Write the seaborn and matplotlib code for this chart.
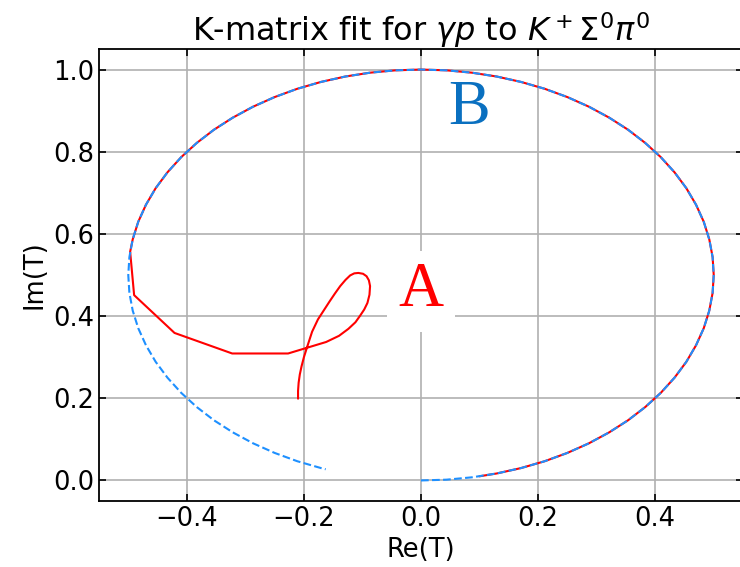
import matplotlib
matplotlib.use("Agg")
import matplotlib.pyplot as plt
import seaborn as sns
import pandas as pd

# Unitarity circle (elastic amplitude), Re(T) / Im(T)
circle_re = [0.0, 0.0436, 0.0868, 0.1294, 0.1710, 0.2113, 0.25, 0.2868, 0.3214,
             0.3536, 0.3830, 0.4096, 0.4330, 0.4532, 0.4698, 0.4830, 0.4924, 0.4981,
             0.5, 0.4981, 0.4924, 0.4830, 0.4698, 0.4532, 0.4330, 0.4096, 0.3830,
             0.3536, 0.3214, 0.2868, 0.25, 0.2113, 0.1710, 0.1294, 0.0868, 0.0436,
             0.0, -0.0436, -0.0868, -0.1294, -0.1710, -0.2113, -0.25, -0.2868, -0.3214,
             -0.3536, -0.3830, -0.4096, -0.4330, -0.4532, -0.4698, -0.4830, -0.4924, -0.4981,
             -0.5, -0.4981, -0.4924, -0.4830, -0.4698, -0.4532, -0.4330, -0.4096, -0.3830,
             -0.3536, -0.3214, -0.2868, -0.25, -0.2113, -0.1710, -0.1628]
circle_im = [0.0, 0.0019, 0.0076, 0.0170, 0.0302, 0.0468, 0.0670, 0.0904, 0.1170,
             0.1464, 0.1786, 0.2132, 0.25, 0.2887, 0.3290, 0.3706, 0.4132, 0.4564,
             0.5, 0.5436, 0.5868, 0.6294, 0.6710, 0.7113, 0.75, 0.7868, 0.8214,
             0.8536, 0.8830, 0.9096, 0.9330, 0.9532, 0.9698, 0.9830, 0.9924, 0.9981,
             1.0, 0.9981, 0.9924, 0.9830, 0.9698, 0.9532, 0.9330, 0.9096, 0.8830,
             0.8536, 0.8214, 0.7868, 0.75, 0.7113, 0.6710, 0.6294, 0.5868, 0.5436,
             0.5, 0.4564, 0.4132, 0.3706, 0.3290, 0.2887, 0.25, 0.2132, 0.1786,
             0.1464, 0.1170, 0.0904, 0.0670, 0.0468, 0.0302, 0.0272]

# K-matrix fit amplitude for gamma p -> K+ Sigma0 pi0
fit_re = [0.0998, 0.1294, 0.1710, 0.2113, 0.25, 0.2868, 0.3214,
          0.3536, 0.3830, 0.4096, 0.4330, 0.4532, 0.4698, 0.4830, 0.4924, 0.4981,
          0.5, 0.4981, 0.4924, 0.4830, 0.4698, 0.4532, 0.4330, 0.4096, 0.3830,
          0.3536, 0.3214, 0.2868, 0.25, 0.2113, 0.1710, 0.1294, 0.0868, 0.0436,
          0.0, -0.0436, -0.0868, -0.1294, -0.1710, -0.2113, -0.25, -0.2868, -0.3214,
          -0.3536, -0.3830, -0.4096, -0.4330, -0.4532, -0.4698, -0.4830, -0.4924,
          -0.4968,
          -0.490, -0.421, -0.3225, -0.227, -0.162, -0.140, -0.124, -0.112, -0.104,
          -0.097, -0.0915, -0.088, -0.087, -0.089, -0.093, -0.099, -0.107, -0.114,
          -0.121, -0.129, -0.138, -0.147, -0.156, -0.166, -0.176, -0.186, -0.194,
          -0.200, -0.204, -0.207, -0.209, -0.210, -0.210]
fit_im = [0.0101, 0.0170, 0.0302, 0.0468, 0.0670, 0.0904, 0.1170,
          0.1464, 0.1786, 0.2132, 0.25, 0.2887, 0.3290, 0.3706, 0.4132, 0.4564,
          0.5, 0.5436, 0.5868, 0.6294, 0.6710, 0.7113, 0.75, 0.7868, 0.8214,
          0.8536, 0.8830, 0.9096, 0.9330, 0.9532, 0.9698, 0.9830, 0.9924, 0.9981,
          1.0, 0.9981, 0.9924, 0.9830, 0.9698, 0.9532, 0.9330, 0.9096, 0.8830,
          0.8536, 0.8214, 0.7868, 0.75, 0.7113, 0.6710, 0.6294, 0.5868,
          0.5566,
          0.451, 0.359, 0.309, 0.309, 0.337, 0.352, 0.369, 0.385, 0.401,
          0.416, 0.432, 0.452, 0.473, 0.487, 0.497, 0.503, 0.505, 0.504,
          0.499, 0.488, 0.473, 0.455, 0.436, 0.414, 0.392, 0.362, 0.327,
          0.300, 0.278, 0.258, 0.238, 0.218, 0.199]

circle_df = pd.DataFrame({"re": circle_re, "im": circle_im})
fit_df = pd.DataFrame({"re": fit_re, "im": fit_im})

sns.set_style("white")
plt.rcParams["font.family"] = ["DejaVu Sans"]
plt.rcParams["mathtext.fontset"] = "dejavusans"
for key in ("text.color", "axes.labelcolor", "xtick.color", "ytick.color"):
    plt.rcParams[key] = "black"

fig = plt.figure(figsize=(7.4, 5.67), dpi=100)
ax = fig.add_axes([99 / 740, 66 / 567, 644 / 740, 452 / 567])

sns.lineplot(data=fit_df, x="re", y="im", sort=False, estimator=None,
             color="red", linewidth=1.5, ax=ax, zorder=3)
sns.lineplot(data=circle_df, x="re", y="im", sort=False, estimator=None,
             color="#1e90ff", linewidth=1.5, linestyle="--", ax=ax, zorder=4)

ax.set_xlim(-0.55, 0.55)
ax.set_ylim(-0.05, 1.05)
ax.set_xticks([-0.4, -0.2, 0.0, 0.2, 0.4])
ax.set_yticks([0.0, 0.2, 0.4, 0.6, 0.8, 1.0])
ax.grid(True, color="#b0b0b0", linewidth=1.2)
ax.set_axisbelow(True)
ax.tick_params(direction="in", length=5, width=1.2, labelsize=18.5,
               colors="black", top=True, right=True, bottom=True, left=True)
for sp in ax.spines.values():
    sp.set_linewidth(1.3)
    sp.set_color("black")

ax.set_xlabel("Re(T)", fontsize=18.5, labelpad=4, color="black")
ax.set_ylabel("Im(T)", fontsize=18.5, labelpad=4, color="black")
ax.set_title(r"K-matrix fit for $\gamma p$ to $K^+\Sigma^0\pi^0$",
             fontsize=23, pad=6, color="black")

ax.text(0.0, 0.46, "A", color="red", fontsize=45, family="Liberation Serif",
        ha="center", va="center", zorder=5,
        bbox=dict(facecolor="white", edgecolor="none", pad=8))
ax.text(0.082, 0.905, "B", color="#0a70c0", fontsize=45, family="Liberation Serif",
        ha="center", va="center", zorder=5)

fig.savefig("out.png", dpi=100)
